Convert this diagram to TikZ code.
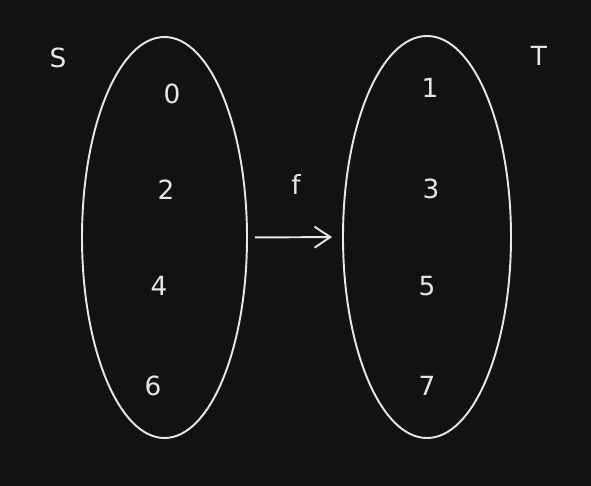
\documentclass[tikz,border=0pt]{standalone}
\usepackage{fontspec}
\setmainfont{DejaVu Sans}
\usetikzlibrary{arrows.meta,shapes.geometric}
\definecolor{bgdark}{HTML}{121212}
\definecolor{inkwhite}{HTML}{E6E6E6}
\tikzset{
  setel/.style={ellipse,draw=inkwhite,line width=1.1pt,inner sep=0pt},
  lbl/.style={text=inkwhite,font=\fontsize{15}{17}\selectfont}
}

\begin{document}
\begin{tikzpicture}[x=0.02cm,y=-0.02cm]

    % background
    \fill[bgdark] (0,0) rectangle (591,486);
    \useasboundingbox (0,0) rectangle (591,486);

    % set S
    \node[setel,minimum width=165*0.02cm,minimum height=401*0.02cm] (setS) at (164.5,237.5) {};
    \node[lbl] (nameS) at (58,58) {S};
    \node[lbl] (s0) at (172,94) {0};
    \node[lbl] (s2) at (166,190) {2};
    \node[lbl] (s4) at (159,286) {4};
    \node[lbl] (s6) at (153,386) {6};

    % set T
    \node[setel,minimum width=168*0.02cm,minimum height=402*0.02cm] (setT) at (427,237) {};
    \node[lbl] (nameT) at (539,56) {T};
    \node[lbl] (t1) at (430,88) {1};
    \node[lbl] (t3) at (431,189) {3};
    \node[lbl] (t5) at (427,286) {5};
    \node[lbl] (t7) at (427,386) {7};

    % map f
    \node[lbl] (mapf) at (296,184) {f};
    \draw[inkwhite,line width=1.1pt,-{Straight Barb[length=9pt,width=12pt]},shorten <=7*0.02cm,shorten >=10*0.02cm] (setS.east) to (setT.west);

\end{tikzpicture}
\end{document}
